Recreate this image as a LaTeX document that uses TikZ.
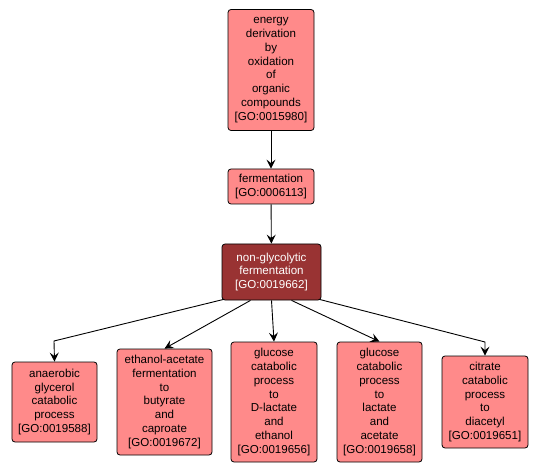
\documentclass[tikz,border=0pt]{standalone}
\usepackage{fontspec}
\setmainfont{Liberation Sans}
\usetikzlibrary{arrows.meta,calc}
\definecolor{lightred}{HTML}{FF8A8A}
\definecolor{darkred}{HTML}{993333}
\tikzset{
  gobox/.style={draw=black, line width=0.8bp, rounded corners=3bp, fill=lightred, align=center,
    inner sep=0pt, font=\fontsize{11.6}{13.8}\selectfont, text=black},
  godark/.style={gobox, fill=darkred, text=white},
  arr/.style={draw=black, line width=0.9bp, -{Stealth[length=9bp,width=9bp,inset=3.5bp]}}
}
\begin{document}
\begin{tikzpicture}[x=1bp,y=-1bp]
\useasboundingbox (0,0) rectangle (540,473);
\node[gobox, minimum width=86bp, minimum height=121bp] (top) at (271,70)
  {energy\\derivation\\by\\oxidation\\of\\organic\\compounds\\{[GO:0015980]}};
\node[gobox, minimum width=86bp, minimum height=35bp] (fer) at (271,186.5)
  {fermentation\\{[GO:0006113]}};
\node[godark, minimum width=99bp, minimum height=56bp] (ng) at (271.5,272)
  {non-glycolytic\\fermentation\\{[GO:0019662]}};
\node[gobox, minimum width=85bp, minimum height=80bp] (an) at (54.5,402)
  {anaerobic\\glycerol\\catabolic\\process\\{[GO:0019588]}};
\node[gobox, minimum width=95bp, minimum height=106bp] (eth) at (164.5,402)
  {ethanol-acetate\\fermentation\\to\\butyrate\\and\\caproate\\{[GO:0019672]}};
\node[gobox, minimum width=86bp, minimum height=120bp] (dl) at (274,402)
  {glucose\\catabolic\\process\\to\\D-lactate\\and\\ethanol\\{[GO:0019656]}};
\node[gobox, minimum width=85bp, minimum height=120bp] (ll) at (379.5,402)
  {glucose\\catabolic\\process\\to\\lactate\\and\\acetate\\{[GO:0019658]}};
\node[gobox, minimum width=86bp, minimum height=92bp] (ci) at (485,402)
  {citrate\\catabolic\\process\\to\\diacetyl\\{[GO:0019651]}};
\coordinate (c1) at (54,341);
\coordinate (c2) at (485,342);
\draw[arr] (top) -- (fer);
\draw[arr] (fer) -- (ng);
\draw[arr] ($(ng.south west)+(2,-1)$) -- (c1) -- (an.north);
\draw[arr] ($(ng.south)+(-21,0)$) -- (eth.north);
\draw[arr] (ng.south) -- (dl.north);
\draw[arr] ($(ng.south)+(20,0)$) -- (ll.north);
\draw[arr] ($(ng.south east)+(-2,-1)$) -- (c2) -- (ci.north);
\end{tikzpicture}
\end{document}
